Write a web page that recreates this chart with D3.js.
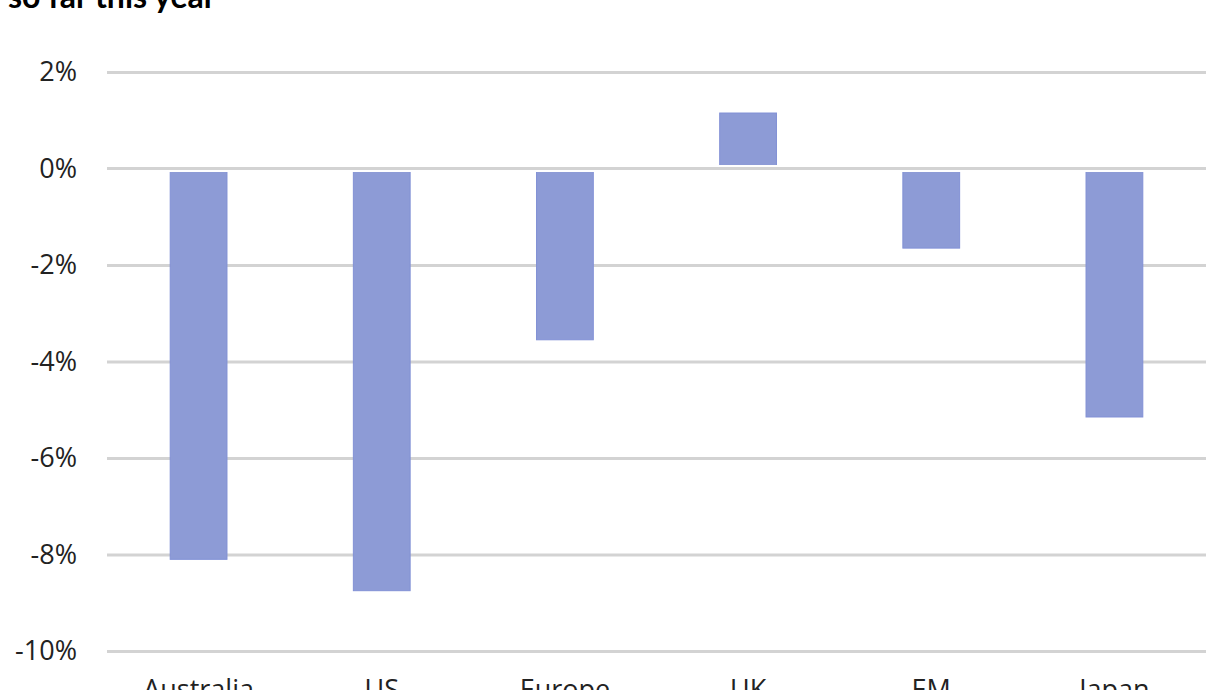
<!DOCTYPE html>
<html><head><meta charset="utf-8">
<script src="https://cdn.jsdelivr.net/npm/d3@7"></script>
<style>body{margin:0;background:#fff;} svg{display:block;}</style>
</head><body>
<svg id="c" width="1226" height="690"></svg>
<script>
const categories = ["Australia","US","Europe","UK","EM","Japan"];
const values = [-8.1, -8.75, -3.55, 1.15, -1.65, -5.15];
const tickValues = [2,0,-2,-4,-6,-8,-10];
const title = "so far this year";

const svg = d3.select("#c");
const W = 1226, H = 690;
const m = {left:107, right:20, top:72, bottom:39};
const x = d3.scaleBand().domain(categories).range([m.left, W-m.right]).paddingInner(0.69).paddingOuter(0.345);
const y = d3.scaleLinear().domain([-10,2]).range([651,72]);

const font = "'Open Sans', Lato, sans-serif";

svg.append("text").attr("x",8).attr("y",8).attr("font-family","Lato, sans-serif")
  .attr("font-weight","bold").attr("font-size",32).attr("fill","#000").text(title);

// gridlines + y labels
const yAxis = d3.axisLeft(y).tickValues(tickValues).tickSize(-(W-m.right-m.left)).tickFormat(d=>d+"%").tickPadding(30);
const g = svg.append("g").attr("transform",`translate(${m.left},0)`).call(yAxis);
g.select(".domain").remove();
g.selectAll(".tick line").attr("stroke","#d3d3d3").attr("stroke-width",3);
g.selectAll(".tick text").attr("font-family",font).attr("font-size",27).attr("fill","#222");

// bars
svg.append("g").selectAll("rect").data(values).join("rect")
  .attr("x",(d,i)=>x(categories[i]))
  .attr("width",x.bandwidth())
  .attr("y",d=>y(Math.max(0,d)))
  .attr("height",d=>Math.abs(y(d)-y(0)))
  .attr("fill","#8d9bd6").attr("stroke","#8291d6").attr("stroke-width",1);

// zero line on top with white halo
const zl = svg.append("g");
zl.append("line").attr("x1",m.left).attr("x2",W-m.right).attr("y1",y(0)).attr("y2",y(0))
  .attr("stroke","#fff").attr("stroke-width",7);
zl.append("line").attr("x1",m.left).attr("x2",W-m.right).attr("y1",y(0)).attr("y2",y(0))
  .attr("stroke","#d3d3d3").attr("stroke-width",3);

// x labels
const xa = svg.append("g").attr("transform",`translate(0,${y(-10)})`).call(d3.axisBottom(x).tickSize(0).tickPadding(29));
xa.select(".domain").remove();
xa.selectAll(".tick text").attr("font-family",font).attr("font-size",27).attr("fill","#222");
</script>
</body></html>
